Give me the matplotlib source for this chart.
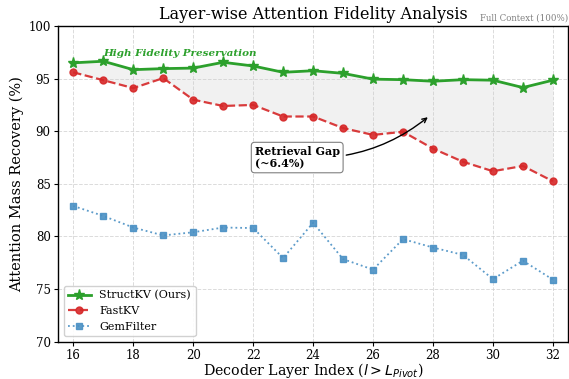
import matplotlib
matplotlib.use("Agg")
import matplotlib.pyplot as plt
import numpy as np

layers = list(range(16, 33))
structkv = [96.5, 96.65, 95.85, 95.95, 96.0, 96.55, 96.2, 95.6, 95.75, 95.5, 94.95, 94.9, 94.75, 94.9, 94.85, 94.15, 94.85]
fastkv = [95.6, 94.85, 94.1, 95.05, 93.0, 92.4, 92.5, 91.4, 91.4, 90.3, 89.65, 89.95, 88.35, 87.1, 86.2, 86.7, 85.25]
gemfilter = [82.9, 81.95, 80.85, 80.1, 80.4, 80.85, 80.8, 77.95, 81.3, 77.85, 76.85, 79.75, 78.95, 78.25, 75.95, 77.7, 75.9]
x_ticks = list(range(16, 33, 2))
y_ticks = list(range(70, 101, 5))

plt.rcParams['font.family'] = ['DejaVu Serif']
plt.rcParams['mathtext.fontset'] = 'dejavusans'

fig = plt.figure(figsize=(5.69, 3.79), dpi=100)
ax = fig.add_axes([0.1025, 0.0984, 0.998 - 0.1025, 0.9314 - 0.0984])

ax.fill_between(layers, fastkv, structkv, color='#e0e0e0', alpha=0.45, linewidth=0, zorder=1)
ax.plot(layers, structkv, color='#2ca02c', linestyle='-', linewidth=2.0, marker='*', markersize=8,
        label='StructKV (Ours)', zorder=4)
ax.plot(layers, fastkv, color='#d62728', linestyle='--', linewidth=1.6, marker='o', markersize=5,
        label='FastKV', alpha=0.9, zorder=3)
ax.plot(layers, gemfilter, color='#4a90c4', linestyle=':', linewidth=1.3, marker='s', markersize=4,
        label='GemFilter', alpha=0.9, zorder=2)

ax.set_xlim(15.5, 32.5)
ax.set_ylim(70, 100)
ax.set_xticks(x_ticks)
ax.set_yticks(y_ticks)
ax.tick_params(labelsize=8.5, length=3, pad=2.5)
ax.tick_params(axis='x', pad=2)
ax.grid(True, linestyle='--', color='#cccccc', alpha=0.7, linewidth=0.7)
for s in ax.spines.values():
    s.set_linewidth(1.0)

ax.set_xlabel('Decoder Layer Index ($l > L_{Pivot}$)', fontsize=10.2, labelpad=-0.5)
ax.set_ylabel('Attention Mass Recovery (%)', fontsize=10.5, labelpad=3)
ax.set_title('Layer-wise Attention Fidelity Analysis', fontsize=11.5, pad=5)
ax.text(1.0, 1.01, 'Full Context (100%)', transform=ax.transAxes, ha='right', va='bottom',
        fontsize=6.2, color='gray')

ax.text(17.0, 97.4, 'High Fidelity Preservation', color='#2ca02c', fontsize=7.5,
        fontweight='bold', fontstyle='italic', ha='left', va='center')

ax.annotate('Retrieval Gap\n(~6.4%)', xy=(27.9, 91.5), xytext=(22.05, 87.5),
            fontsize=8, fontweight='bold', ha='left', va='center',
            bbox=dict(boxstyle='round,pad=0.3', fc='white', ec='gray', lw=0.8),
            arrowprops=dict(arrowstyle='->', color='black', lw=1.0,
                            connectionstyle='arc3,rad=0.2'))

ax.legend(loc='lower left', fontsize=8, frameon=True, framealpha=0.9)

fig.savefig('out.png', dpi=100)
